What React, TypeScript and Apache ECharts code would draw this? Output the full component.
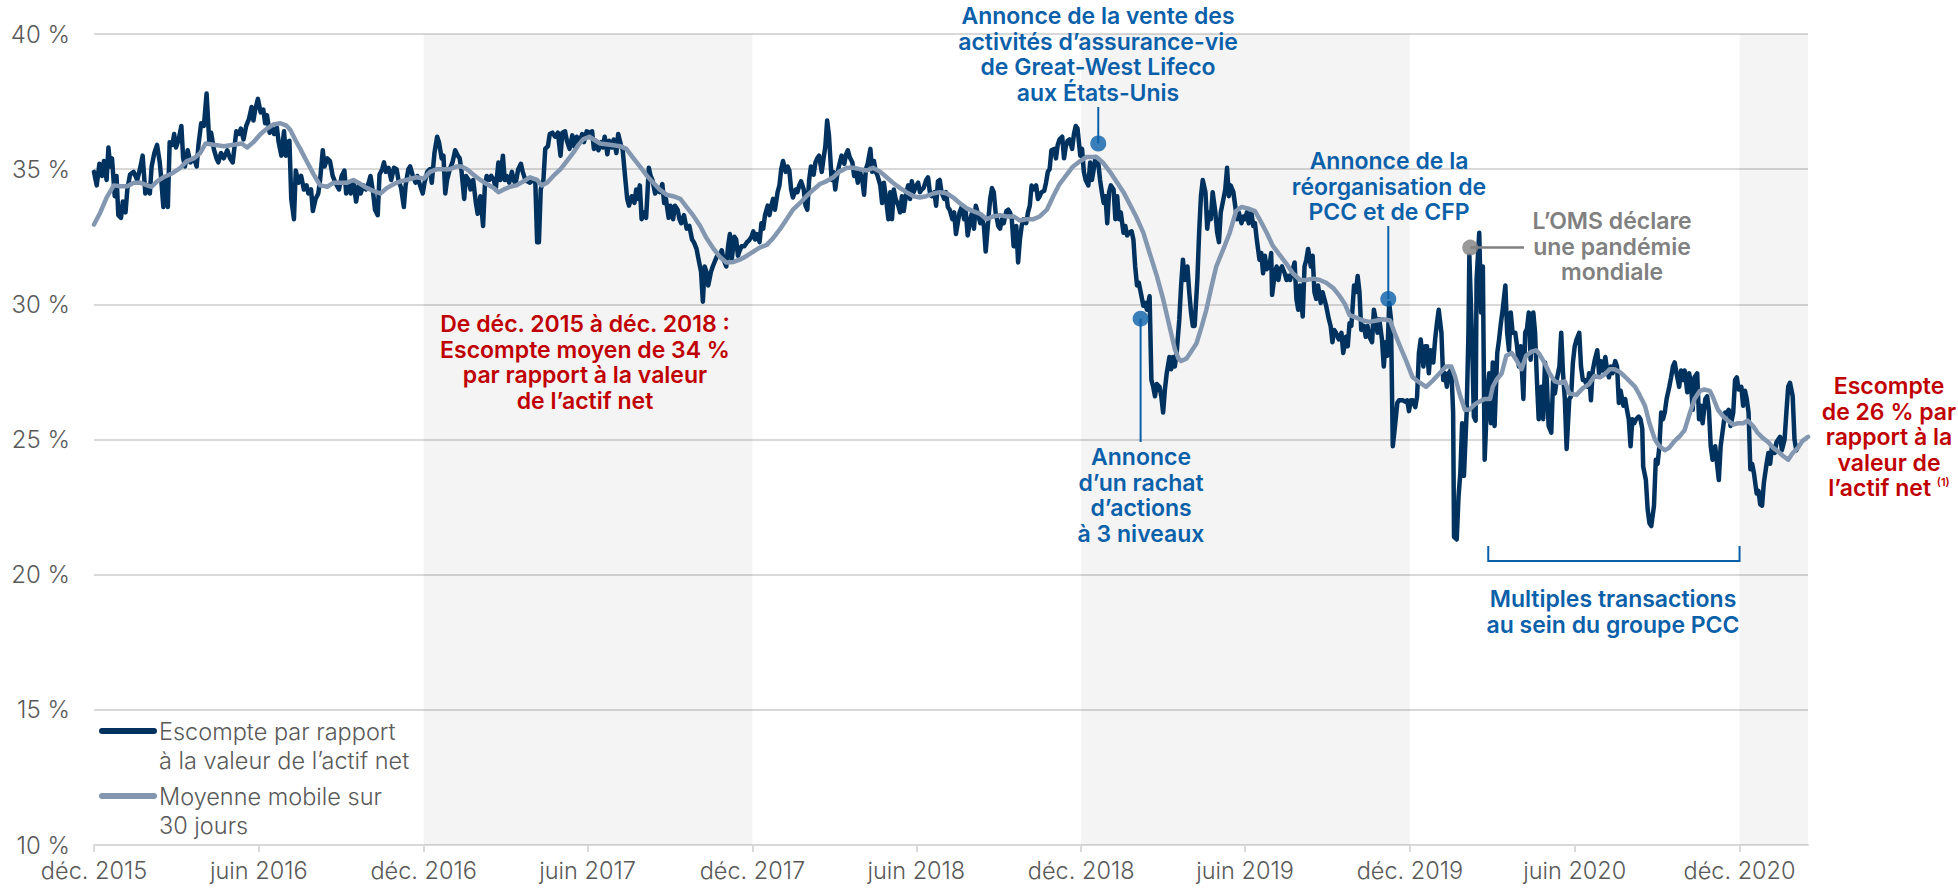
import React, { useEffect, useRef } from 'react';
import * as echarts from 'echarts';

// x values are days elapsed since 1 Dec 2015
const tickDays = [0, 183, 366, 548, 731, 913, 1096, 1278, 1461, 1644, 1827];
const tickLabels = ['déc. 2015', 'juin 2016', 'déc. 2016', 'juin 2017', 'déc. 2017', 'juin 2018', 'déc. 2018', 'juin 2019', 'déc. 2019', 'juin 2020', 'déc. 2020'];
const lastDay = 1903;
const shadedPeriods = [[366, 731], [1096, 1461], [1827, 1903]];

const seriesNames = ['Escompte par rapport\nà la valeur de l’actif net', 'Moyenne mobile sur\n30 jours'];

// Discount to NAV (%), [day, value]
const discount = [
  [0,34.9],[3,34.4],[6,35.2],[9,34.75],[11,35.3],[14,34.6],[16,35.8],[18,35.1],[20,35.4],[23,34.0],[25,34.75],[27,33.3],[30,33.2],[32,33.8],[35,33.4],[37,34.25],[40,34.8],[44,34.9],[48,34.6],[51,35.0],[54,35.5],[57,34.1],[60,34.4],[62,34.1],[64,35.1],[67,35.6],[70,35.9],[73,35.25],[74,34.9],[77,33.6],[79,34.6],[82,33.6],[84,36.0],[87,35.9],[89,36.3],[91,35.8],[94,36.1],[97,36.6],[99,35.4],[101,35.1],[104,35.7],[107,35.25],[111,35.4],[114,35.1],[116,35.9],[119,36.7],[122,36.6],[125,37.8],[128,36.0],[130,36.35],[133,35.75],[136,35.4],[138,35.25],[141,35.6],[144,35.4],[148,35.7],[151,35.4],[154,35.25],[158,36.4],[161,36.3],[163,36.5],[166,36.1],[169,36.6],[172,36.85],[175,37.3],[177,36.8],[179,37.2],[182,37.6],[185,37.1],[188,37.2],[190,36.7],[192,37.0],[195,36.35],[198,36.5],[200,36.3],[203,36.55],[205,36.0],[208,35.5],[211,36.4],[213,35.5],[215,36.0],[217,36.05],[219,33.9],[222,33.15],[224,34.95],[227,34.5],[230,34.75],[233,34.25],[236,34.4],[238,34.1],[241,34.25],[243,33.45],[246,33.9],[249,34.1],[251,34.6],[254,35.7],[256,35.1],[259,35.4],[262,35.3],[265,34.75],[268,34.5],[272,34.25],
  [275,34.75],[278,34.95],[280,34.1],[283,34.5],[285,34.1],[288,34.55],[291,33.8],[294,34.4],[296,34.1],[299,34.4],[302,34.25],[305,34.5],[307,34.75],[310,34.1],[312,33.5],[315,33.3],[317,34.8],[320,35.0],[322,35.25],[324,34.9],[327,35.05],[330,34.6],[333,35.05],[336,35.0],[338,34.6],[341,34.3],[344,33.6],[346,34.4],[349,35.0],[351,35.1],[354,34.75],[357,34.5],[359,34.75],[362,34.4],[365,34.1],[367,34.5],[370,34.9],[373,35.0],[375,34.5],[378,35.6],[381,36.2],[383,36.0],[386,35.4],[388,35.5],[390,34.1],[392,34.6],[395,35.0],[398,35.25],[401,35.7],[404,35.5],[406,35.4],[408,34.95],[411,33.9],[413,34.75],[416,34.6],[418,34.25],[421,34.6],[424,33.75],[426,33.35],[429,34.0],[432,32.9],[434,34.4],[436,34.75],[439,34.6],[441,34.75],[444,34.6],[446,34.25],[449,35.25],[451,34.6],[454,35.5],[456,34.6],[458,34.75],[461,34.5],[464,34.9],[466,34.6],[468,34.45],[471,35.0],[474,35.2],[476,34.9],[479,34.6],[481,34.55],[484,34.5],[487,34.6],[490,34.5],[492,32.3],[494,32.3],[496,34.25],[499,34.6],[501,35.75],[504,35.85],[506,36.3],[509,36.35],[512,36.2],[515,36.35],[518,35.5],[520,36.35],[523,36.4],[525,36.05],[528,35.75],[531,36.25],[533,35.85],[536,36.2],[539,36.0],[542,36.3],[544,36.0],[547,36.4],[550,36.35],
  [553,36.4],[555,35.75],[557,36.05],[560,35.7],[563,36.0],[565,35.8],[567,36.2],[570,35.55],[572,36.05],[575,35.8],[577,36.1],[580,35.6],[582,36.3],[585,35.9],[587,35.7],[590,34.6],[592,33.9],[594,33.65],[597,34.0],[600,33.75],[602,34.25],[604,33.9],[606,34.4],[608,33.15],[611,33.4],[613,33.2],[616,35.05],[618,34.75],[620,34.6],[623,34.1],[625,34.3],[628,34.15],[631,34.45],[633,33.75],[635,33.9],[638,33.2],[640,33.65],[643,33.15],[645,33.65],[648,33.5],[650,33.15],[652,33.0],[655,33.3],[658,32.8],[661,32.9],[664,32.4],[666,32.3],[669,32.05],[671,31.7],[674,31.2],[676,30.1],[678,31.4],[680,31.2],[682,30.7],[685,31.2],[687,31.4],[690,31.65],[692,31.8],[695,31.85],[697,32.0],[699,31.65],[702,31.4],[704,32.15],[706,32.6],[708,31.65],[711,32.5],[713,32.4],[715,31.8],[717,32.0],[719,32.15],[722,32.15],[725,32.3],[727,32.35],[730,32.5],[732,32.7],[734,32.4],[736,32.6],[739,32.3],[741,33.0],[743,32.8],[745,33.3],[748,33.65],[750,33.3],[752,33.65],[754,33.9],[756,33.5],[759,34.15],[761,34.4],[763,35.0],[765,35.3],[768,34.9],[770,35.1],[772,34.95],[774,34.25],[776,33.95],[779,34.25],[781,34.15],[783,34.4],[785,34.55],[788,34.25],[790,33.65],[792,33.5],[794,34.6],[796,35.1],[799,34.8],[801,35.25],[803,35.4],[805,35.5],[808,34.9],[810,35.4],[812,35.85],[814,36.8],[816,36.25],[819,34.6],[821,34.9],[823,34.25],[825,34.75],[827,35.1],
  [830,35.5],[833,35.2],[835,35.55],[837,35.7],[839,35.45],[842,35.25],[844,34.75],[846,34.95],[848,34.5],[850,34.95],[853,34.6],[855,34.05],[857,35.0],[859,35.2],[862,35.75],[864,34.9],[866,35.3],[868,34.9],[870,34.75],[873,34.4],[875,33.75],[877,34.5],[879,34.0],[882,33.15],[884,34.15],[886,33.15],[888,34.25],[890,33.9],[893,33.65],[895,33.4],[897,34.0],[899,33.45],[902,34.15],[904,34.4],[906,33.9],[908,34.55],[910,34.15],[913,34.4],[915,34.5],[917,34.15],[919,34.25],[921,34.3],[924,34.6],[926,34.7],[928,34.15],[930,34.0],[933,34.15],[935,33.65],[937,34.55],[939,34.6],[941,34.15],[944,33.9],[946,34.15],[948,33.6],[950,33.5],[953,33.15],[955,33.4],[957,32.6],[959,33.0],[961,33.4],[964,33.65],[966,33.15],[968,33.4],[970,32.55],[973,33.15],[975,33.4],[977,32.8],[979,33.65],[981,33.4],[984,33.0],[986,33.15],[988,32.9],[990,31.95],[993,33.15],[995,33.9],[997,34.3],[999,34.15],[1001,33.4],[1004,32.9],[1006,32.8],[1008,33.15],[1010,33.0],[1013,33.45],[1015,33.5],[1017,33.4],[1019,33.15],[1021,32.15],[1024,32.9],[1026,31.55],[1028,32.4],[1030,32.9],[1032,33.15],[1035,33.0],[1037,33.4],[1039,33.65],[1041,34.4],[1043,34.25],[1046,34.4],[1048,33.9],[1050,34.0],[1052,34.15],[1055,34.2],[1057,34.5],[1059,34.9],[1061,35.0],[1063,35.7],[1066,35.75],[1068,35.4],[1070,35.9],[1072,36.1],[1075,36.2],[1077,35.4],[1079,35.85],[1081,36.05],[1083,36.1],[1086,35.75],[1088,36.3],[1090,36.6],[1092,36.5],[1095,35.5],[1097,35.75],[1099,34.9],[1101,34.6],[1104,34.4],
  [1106,35.25],[1108,34.6],[1110,35.0],[1112,35.45],[1115,35.25],[1117,34.6],[1119,34.15],[1121,33.75],[1123,34.0],[1125,33.0],[1127,34.15],[1129,34.4],[1132,34.25],[1134,33.15],[1136,34.0],[1138,33.15],[1140,33.4],[1143,32.65],[1145,32.9],[1147,32.55],[1149,32.65],[1152,32.7],[1154,32.4],[1156,31.4],[1158,30.7],[1160,30.8],[1163,30.3],[1165,29.95],[1167,30.05],[1169,29.8],[1172,30.3],[1174,27.2],[1176,26.95],[1178,26.6],[1180,27.05],[1183,26.95],[1185,26.6],[1187,26.0],[1189,26.85],[1191,27.45],[1194,28.05],[1196,27.6],[1198,28.05],[1200,27.7],[1202,28.2],[1205,29.45],[1207,30.7],[1209,31.65],[1211,30.9],[1214,31.4],[1216,30.45],[1218,29.7],[1220,29.2],[1222,29.2],[1225,30.9],[1227,32.65],[1229,34.0],[1231,34.6],[1234,34.15],[1236,32.8],[1238,33.4],[1240,33.15],[1242,34.15],[1245,33.4],[1247,32.65],[1249,32.3],[1251,33.4],[1254,33.9],[1256,34.25],[1258,35.05],[1260,34.0],[1262,34.4],[1265,34.15],[1267,33.65],[1269,33.15],[1271,33.4],[1274,33.0],[1276,33.25],[1278,33.15],[1280,33.4],[1282,33.0],[1285,33.4],[1287,32.9],[1289,33.0],[1291,32.4],[1294,31.65],[1296,31.9],[1298,31.15],[1300,31.8],[1302,31.3],[1305,31.4],[1307,31.9],[1308,30.35],[1311,31.15],[1313,31.4],[1315,30.9],[1317,31.3],[1319,31.4],[1322,31.15],[1324,30.9],[1326,31.05],[1328,30.9],[1331,31.3],[1333,31.55],[1335,30.2],[1337,29.8],[1339,30.7],[1342,29.55],[1344,31.4],[1346,31.65],[1348,32.05],[1351,31.4],[1353,31.8],[1355,30.45],[1357,30.2],[1359,30.7],[1362,30.05],[1364,30.45],[1366,30.2],[1368,29.95],[1371,29.45],[1373,29.2],[1375,28.6],[1377,29.05],[1379,28.95],[1382,28.7],
  [1385,28.95],[1387,28.2],[1390,28.8],[1392,28.45],[1394,29.3],[1396,29.2],[1399,30.7],[1401,30.45],[1403,31.05],[1405,30.45],[1407,29.05],[1410,29.2],[1412,28.8],[1414,29.2],[1416,28.8],[1419,28.6],[1421,29.8],[1423,29.45],[1425,28.95],[1427,29.45],[1430,28.7],[1432,27.7],[1434,28.6],[1436,28.1],[1438,30.05],[1440,29.45],[1442,24.75],[1444,25.35],[1447,26.35],[1449,26.45],[1451,26.45],[1453,26.45],[1456,26.4],[1458,26.45],[1460,26.05],[1462,26.45],[1464,26.45],[1467,26.2],[1469,26.6],[1471,28.2],[1473,28.7],[1476,27.7],[1478,28.45],[1480,28.45],[1482,27.45],[1484,28.3],[1487,27.85],[1489,28.7],[1491,29.3],[1493,29.8],[1496,28.95],[1498,27.2],[1500,27.45],[1502,26.95],[1504,27.45],[1507,27.6],[1509,26.0],[1510,21.4],[1513,21.3],[1515,22.9],[1517,23.75],[1519,25.6],[1521,23.65],[1524,26.0],[1526,28.95],[1527,31.8],[1530,28.7],[1532,25.85],[1534,25.7],[1535,30.9],[1538,32.65],[1540,29.7],[1542,31.4],[1544,24.25],[1547,26.7],[1549,27.45],[1551,25.6],[1553,27.85],[1555,25.5],[1558,28.2],[1560,28.7],[1562,29.3],[1564,29.8],[1567,30.7],[1569,28.95],[1571,28.3],[1573,29.7],[1575,28.95],[1578,28.95],[1580,28.45],[1582,27.7],[1584,28.45],[1587,26.5],[1589,28.95],[1591,29.1],[1593,29.7],[1595,27.95],[1598,29.7],[1600,28.95],[1602,27.2],[1604,25.75],[1607,26.95],[1609,25.75],[1611,27.85],[1613,27.2],[1615,25.5],[1618,25.25],[1620,27.2],[1622,26.7],[1624,27.2],[1627,27.7],[1629,28.95],[1631,27.45],[1633,26.5],[1635,24.65],[1638,26.5],[1640,26.6],[1642,27.85],[1644,28.45],[1646,28.7],[1649,28.95],[1651,27.7],[1653,27.2],[1655,27.2],[1658,26.95],[1660,27.45],
  [1662,26.45],[1664,27.55],[1666,27.9],[1669,28.3],[1671,27.45],[1673,27.9],[1675,27.55],[1678,28.05],[1680,27.55],[1682,27.3],[1684,27.7],[1686,27.45],[1689,27.9],[1691,27.7],[1693,26.35],[1695,26.8],[1698,26.25],[1700,26.5],[1702,26.1],[1704,25.75],[1706,24.75],[1708,25.75],[1710,25.6],[1712,25.75],[1715,25.85],[1717,25.75],[1719,25.4],[1720,24.0],[1723,23.5],[1725,22.4],[1727,21.9],[1729,21.8],[1732,22.55],[1734,24.25],[1736,24.1],[1738,24.75],[1740,26.0],[1742,25.75],[1744,26.0],[1746,26.5],[1749,26.95],[1751,27.3],[1753,27.7],[1755,27.85],[1757,27.45],[1760,26.95],[1762,27.55],[1764,27.2],[1766,27.55],[1769,26.75],[1771,27.45],[1773,27.1],[1775,26.1],[1777,27.3],[1780,27.45],[1782,25.75],[1784,26.25],[1786,25.6],[1789,26.5],[1791,26.6],[1793,26.1],[1795,24.75],[1797,24.25],[1800,24.75],[1802,24.1],[1804,23.5],[1806,24.75],[1809,25.5],[1811,26.0],[1813,26.0],[1815,26.1],[1817,25.5],[1820,26.0],[1822,27.2],[1824,27.3],[1826,26.85],[1829,26.95],[1831,26.25],[1833,26.8],[1835,26.5],[1837,26.0],[1839,23.9],[1841,24.1],[1843,23.75],[1846,23.0],[1848,23.1],[1850,22.6],[1852,22.55],[1854,23.4],[1857,24.1],[1859,24.5],[1861,24.1],[1863,24.75],[1866,24.5],[1868,24.9],[1870,25.0],[1872,25.1],[1874,24.6],[1877,25.0],[1879,26.0],[1881,26.95],[1883,27.1],[1886,26.6],[1888,25.0],[1890,24.6],[1892,24.75]
];

// 30-day moving average (%), [day, value]
const movingAvg = [
  [0,32.95],[7,33.4],[14,33.95],[22,34.4],[29,34.37],[37,34.37],[44,34.5],[51,34.5],[59,34.4],[64,34.35],[70,34.55],[77,34.7],[87,34.85],[96,35.05],[103,35.3],[111,35.4],[118,35.6],[124,35.95],[133,35.9],[144,35.85],[155,35.9],[164,35.95],[170,35.8],[177,36.0],[185,36.3],[192,36.5],[199,36.65],[207,36.7],[214,36.6],[218,36.45],[224,36.05],[229,35.75],[236,35.3],[244,34.8],[251,34.4],[259,34.35],[266,34.5],[272,34.5],
  [281,34.5],[288,34.6],[296,34.45],[303,34.3],[310,34.2],[318,34.1],[325,34.3],[333,34.45],[340,34.55],[347,34.6],[358,34.7],[366,34.65],[373,34.9],[381,35.0],[388,35.0],[395,35.0],[403,35.1],[408,35.1],[414,35.0],[421,34.8],[429,34.6],[436,34.45],[444,34.3],[449,34.15],[455,34.25],[462,34.35],[469,34.4],[477,34.55],[484,34.7],[492,34.6],[497,34.4],[503,34.5],[510,34.75],[518,35.0],[525,35.3],[532,35.6],[538,35.9],[543,36.1],[550,36.2],
  [562,35.95],[573,35.9],[584,35.85],[591,35.75],[599,35.4],[606,35.1],[614,34.75],[621,34.5],[628,34.25],[636,34.05],[643,34.0],[651,33.9],[658,33.6],[665,33.3],[673,32.9],[680,32.45],[688,32.05],[695,31.75],[702,31.55],[710,31.57],[717,31.65],[725,31.8],[732,31.95],[739,32.1],[747,32.2],[754,32.45],[762,32.8],[769,33.15],[776,33.5],[784,33.75],[791,34.0],[799,34.25],[806,34.45],[813,34.55],[821,34.7],[827,34.9],
  [836,35.05],[843,35.05],[850,35.0],[858,34.95],[865,35.05],[873,34.9],[880,34.7],[887,34.5],[895,34.3],[902,34.15],[910,34.0],[917,33.95],[924,34.0],[932,34.1],[939,34.15],[947,34.1],[954,33.95],[961,33.75],[969,33.55],[976,33.45],[984,33.35],[991,33.15],[998,33.25],[1006,33.3],[1013,33.25],[1021,33.25],[1028,33.1],[1035,33.15],[1043,33.15],[1050,33.25],[1058,33.5],[1065,34.0],[1072,34.45],[1080,34.8],[1087,35.1],[1095,35.3],[1102,35.45],
  [1106,35.45],[1113,35.45],[1120,35.25],[1128,34.9],[1135,34.55],[1143,34.15],[1150,33.7],[1157,33.25],[1165,32.65],[1172,31.9],[1180,31.05],[1187,30.2],[1194,29.2],[1200,28.35],[1204,28.0],[1207,27.9],[1213,28.0],[1218,28.25],[1224,28.55],[1230,29.2],[1235,29.8],[1241,30.7],[1246,31.4],[1254,32.05],[1261,32.65],[1268,33.45],[1274,33.6],[1281,33.55],[1289,33.45],[1294,33.15],[1302,32.65],[1309,32.15],[1317,31.8],[1324,31.5],[1331,31.15],[1339,30.9],[1346,30.9],[1354,30.95],[1361,30.9],[1368,30.8],[1376,30.6],[1382,30.35],
  [1389,30.0],[1394,29.6],[1402,29.5],[1409,29.4],[1416,29.35],[1424,29.4],[1431,29.45],[1439,29.4],[1444,28.95],[1450,28.45],[1457,27.9],[1464,27.3],[1472,27.1],[1479,26.95],[1487,27.2],[1494,27.45],[1501,27.7],[1507,27.7],[1511,27.35],[1516,26.7],[1522,26.1],[1527,26.1],[1533,26.3],[1538,26.4],[1544,26.5],[1550,26.5],[1553,26.95],[1557,27.2],[1563,27.45],[1568,28.1],[1574,28.2],[1579,27.95],[1585,27.6],[1590,28.1],[1596,28.25],[1601,28.3],[1605,28.15],[1611,27.8],[1616,27.45],[1622,27.15],[1627,27.1],[1633,27.15],[1638,26.7],[1646,26.65],[1653,26.9],[1660,27.05],
  [1666,27.35],[1672,27.3],[1677,27.4],[1683,27.6],[1688,27.6],[1694,27.5],[1699,27.35],[1705,27.15],[1711,26.95],[1716,26.65],[1722,26.25],[1727,25.6],[1733,25.0],[1738,24.75],[1744,24.6],[1749,24.7],[1755,24.95],[1760,25.1],[1766,25.35],[1772,26.0],[1777,26.5],[1783,26.8],[1788,26.85],[1794,26.8],[1797,26.6],[1803,26.1],[1809,25.85],[1814,25.7],[1820,25.55],[1825,25.6],[1831,25.6],[1836,25.7],[1842,25.5],[1847,25.25],[1853,25.05],[1859,24.9],[1864,24.7],[1870,24.55],[1875,24.4],[1881,24.25],[1886,24.5],[1892,24.7],[1897,24.95],[1903,25.1]
];

// Event markers
const eventDays = [1115, 1162, 1437, 1528];
const eventValues = [35.95, 29.47, 30.2, 32.1];
const eventKinds = ['blue', 'blue', 'blue', 'grey'];
const bracketDays = [1548, 1827];

const NAVY = '#00325f';
const MA = '#8497b0';
const BLUE = '#0a60a9';
const RED = '#c00000';
const GREY_TXT = '#808080';
const AXIS_TXT = '#595959';
const FONT = "Inter, 'Noto Sans', sans-serif";

export default function App() {
  const ref = useRef<HTMLDivElement>(null);
  useEffect(() => {
    if (!ref.current) return;
    const chart = echarts.init(ref.current, undefined, { renderer: 'svg' });
    const option: any = {
      animation: false,
      backgroundColor: '#ffffff',
      grid: { left: 94, right: 150, top: 34, bottom: 45, containLabel: false },
      xAxis: {
        type: 'value',
        min: 0,
        max: lastDay,
        splitLine: { show: false },
        axisLine: { show: true, lineStyle: { color: '#d9d9d9', width: 2 } },
        axisTick: { show: true, customValues: tickDays, length: 7, lineStyle: { color: '#d9d9d9', width: 2 } },
        axisLabel: {
          customValues: tickDays,
          formatter: (v: number) => {
            const i = tickDays.indexOf(Math.round(v));
            return i >= 0 ? tickLabels[i] : '';
          },
          color: AXIS_TXT,
          fontSize: 23.5,
          fontWeight: 300,
          fontFamily: FONT,
          margin: 13,
        },
      },
      yAxis: {
        type: 'value',
        min: 10,
        max: 40,
        interval: 5,
        axisLine: { show: false },
        axisTick: { show: false },
        splitLine: { show: true, lineStyle: { color: '#d9d9d9', width: 2 } },
        axisLabel: { formatter: (v: number) => `${v} %`, color: AXIS_TXT, fontSize: 24, fontWeight: 300, fontFamily: FONT, margin: 24 },
      },
      series: [
        {
          name: seriesNames[0],
          type: 'line',
          data: discount,
          showSymbol: false,
          lineStyle: { color: NAVY, width: 4.5, cap: 'round', join: 'round' },
          z: 3,
          markArea: {
            silent: true,
            itemStyle: { color: 'rgba(0,0,0,0.045)' },
            data: shadedPeriods.map(([a, b]) => [{ xAxis: a }, { xAxis: b }]),
          },
        },
        {
          name: seriesNames[1],
          type: 'line',
          data: movingAvg,
          showSymbol: false,
          lineStyle: { color: MA, width: 4.5, cap: 'round', join: 'round' },
          z: 4,
        },
        {
          name: 'events',
          type: 'scatter',
          data: eventDays.map((d, i) => ({
            value: [d, eventValues[i]],
            itemStyle: { color: eventKinds[i] === 'blue' ? BLUE : '#808080' },
          })),
          symbolSize: 16,
          z: 6,
        },
      ],
    };
    chart.setOption(option);

    const px = (d: number, v: number) => chart.convertToPixel({ gridIndex: 0 }, [d, v]) as number[];
    const ev = eventDays.map((d, i) => px(d, eventValues[i]));
    const b0 = px(bracketDays[0], 20)[0];
    const b1 = px(bracketDays[1], 20)[0];

    const LH = 25.5;
    // one text element per line, centred on (x, firstLineCentre + i * LH)
    const block = (x: number, yFirst: number, lines: string[], fill: string, size = 23, richLast?: any) =>
      lines.map((line, i) => ({
        type: 'text',
        x,
        y: yFirst + i * LH,
        z: 10,
        style: {
          text: line,
          fill,
          fontFamily: FONT,
          fontSize: size,
          fontWeight: 600,
          textAlign: 'center',
          align: 'center',
          textVerticalAlign: 'middle',
          verticalAlign: 'middle',
          ...(richLast && i === lines.length - 1 ? { rich: richLast } : {}),
        },
      }));
    const ln = (x1: number, y1: number, x2: number, y2: number, color: string, w = 2, cap = 'butt') => ({
      type: 'line',
      z: 5,
      shape: { x1, y1, x2, y2 },
      style: { stroke: color, lineWidth: w, lineCap: cap },
    });
    const legendText = (x: number, y: number, text: string) => ({
      type: 'text', x, y, z: 10,
      style: { text, fill: AXIS_TXT, fontFamily: FONT, fontSize: 23.5, fontWeight: 300, textAlign: 'left', align: 'left', textVerticalAlign: 'middle', verticalAlign: 'middle' },
    });

    const graphic: any[] = [
      // connectors
      ln(ev[0][0], 107, ev[0][0], ev[0][1], BLUE),
      ln(ev[1][0], ev[1][1], ev[1][0], 442, BLUE),
      ln(ev[2][0], 226, ev[2][0], ev[2][1], BLUE),
      ln(ev[3][0], ev[3][1], 1524, ev[3][1], '#808080', 2.5),
      // bracket
      {
        type: 'polyline',
        z: 5,
        shape: { points: [[b0, 546], [b0, 561], [b1, 561], [b1, 546]] },
        style: { stroke: BLUE, lineWidth: 2, fill: 'none' },
      },
      // annotation texts
      ...block(1098, 16, ['Annonce de la vente des', 'activités d’assurance-vie', 'de Great-West Lifeco', 'aux États-Unis'], BLUE),
      ...block(1389, 161, ['Annonce de la', 'réorganisation de', 'PCC et de CFP'], BLUE),
      ...block(1612, 221, ['L’OMS déclare', 'une pandémie', 'mondiale'], GREY_TXT),
      ...block(1141, 457, ['Annonce', 'd’un rachat', 'd’actions', 'à 3 niveaux'], BLUE),
      ...block(1613, 599, ['Multiples transactions', 'au sein du groupe PCC'], BLUE),
      ...block(585, 324, ['De déc. 2015 à déc. 2018 :', 'Escompte moyen de 34 %', 'par rapport à la valeur', 'de l’actif net'], RED),
      ...block(1889, 386, ['Escompte', 'de 26 % par', 'rapport à la', 'valeur de', 'l’actif net {s|(1)}'], RED, 23,
        { s: { fontSize: 11, fontWeight: 600, fill: RED, fontFamily: FONT, verticalAlign: 'top', padding: [0, 0, 10, 0] } }),
      // legend
      ln(102, 731, 154, 731, NAVY, 6, 'round'),
      ln(102, 796, 154, 796, MA, 6, 'round'),
      legendText(159, 731, 'Escompte par rapport'),
      legendText(159, 760, 'à la valeur de l’actif net'),
      legendText(159, 796, 'Moyenne mobile sur'),
      legendText(159, 825, '30 jours'),
    ];
    chart.setOption({ graphic });

    return () => chart.dispose();
  }, []);

  return <div ref={ref} style={{ position: 'absolute', left: 0, top: 0, width: 1958, height: 890 }} />;
}
